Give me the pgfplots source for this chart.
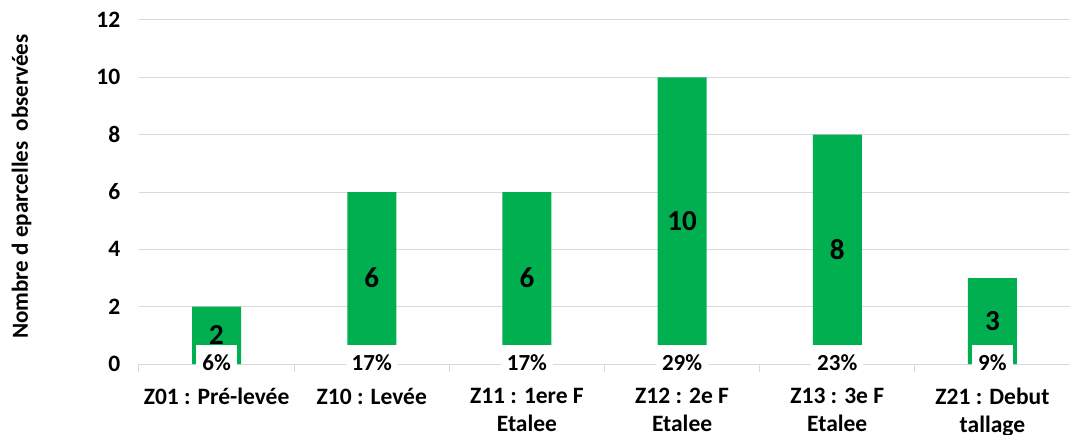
\documentclass[border=0pt]{standalone}
\usepackage{fontspec}
\setmainfont{Carlito}
\usepackage{pgfplots}
\usepackage{pgfplotstable}
\pgfplotsset{compat=1.18}
\usetikzlibrary{calc}

\definecolor{barg}{HTML}{00B050}
\definecolor{gridg}{HTML}{D9D9D9}

% stage, count of plots, share of total (%)
\pgfplotstableread{
x n pct
0 2 6
1 6 17
2 6 17
3 10 29
4 8 23
5 3 9
}\stades

\begin{document}
\begin{tikzpicture}
\begin{axis}[
    width=931pt, height=344pt, scale only axis,
    xmin=-0.5, xmax=5.5, ymin=0, ymax=12,
    ytick={0,2,...,12},
    xtick={0,...,5},
    xticklabels={Z01 : Pré-levée, Z10 : Levée, Z11 : 1ere F\\Etalee,
        Z12 : 2e F\\Etalee, Z13 : 3e F\\Etalee, Z21 : Debut\\tallage},
    minor xtick={-0.5,0.5,...,5.5},
    axis x line*=bottom, axis y line*=left,
    x axis line style={gridg, line width=1pt, -},
    y axis line style={draw=none},
    major x tick style={draw=none},
    ytick style={draw=none},
    minor x tick style={gridg, line width=1pt},
    minor tick length=8pt,
    tick align=outside,
    ymajorgrids, grid style={gridg, line width=1pt},
    /pgf/number format/assume math mode=true,
    tick label style={font=\bfseries\fontsize{23.5}{28}\selectfont},
    xticklabel style={align=center, yshift=-16pt},
    yticklabel style={xshift=-11pt},
    ylabel={Nombre d eparcelles~~observées},
    ylabel style={at={(axis description cs:-0.126,0.516)}, anchor=center,
        font=\bfseries\fontsize{23}{24}\selectfont},
    clip=false,
]
\addplot[ybar, bar width=49pt, fill=barg, draw=none] table[x=x, y=n] {\stades};
\addplot[draw=none, mark=none, point meta=explicit,
    nodes near coords, nodes near coords align=center,
    every node near coord/.append style={font=\bfseries\fontsize{29}{30}\selectfont}]
    table[x=x, y expr=\thisrow{n}/2, meta=n] {\stades};
\addplot[draw=none, mark=none, point meta=explicit,
    nodes near coords={\pgfmathprintnumber{\pgfplotspointmeta}\%},
    every node near coord/.append style={anchor=center, fill=white,
        inner xsep=6pt, minimum height=36pt,
        font=\bfseries\fontsize{23}{24}\selectfont}]
    table[x=x, y expr=0.05, meta=pct] {\stades};
\coordinate (sw) at (rel axis cs:0,0);
\coordinate (ne) at (rel axis cs:1,1);
\end{axis}
\pgfresetboundingbox
\useasboundingbox ($(sw)+(-139pt,-70pt)$) rectangle ($(ne)+(0pt,20pt)$);
\end{tikzpicture}
\end{document}
